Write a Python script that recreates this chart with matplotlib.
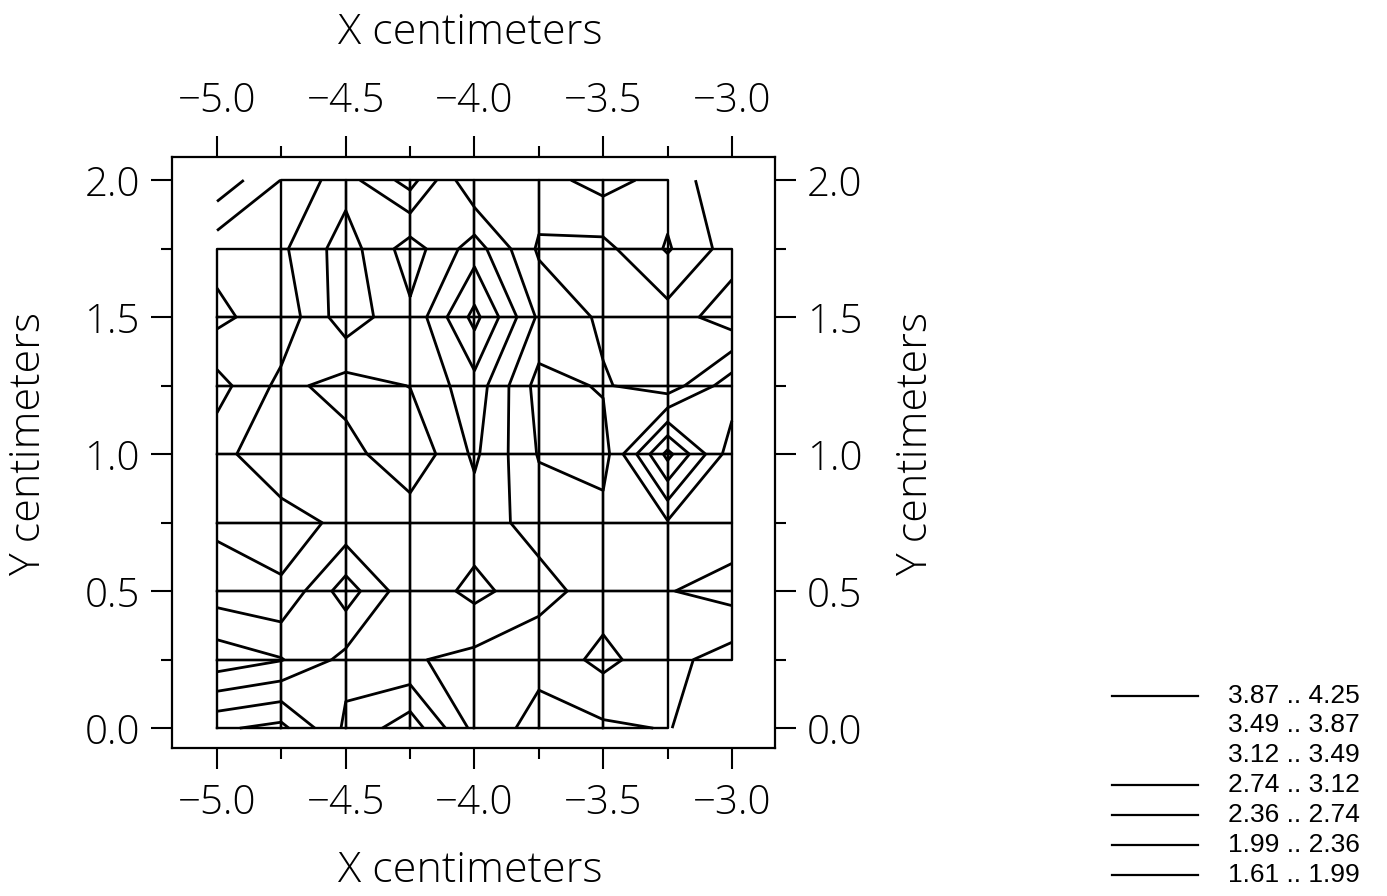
import numpy as np
import matplotlib
matplotlib.use("Agg")
from matplotlib import pyplot as plt

# grid of the measurement (cm)
x_cm = [-5.0, -4.75, -4.5, -4.25, -4.0, -3.75, -3.5, -3.25, -3.0]
y_cm = [0.0, 0.25, 0.5, 0.75, 1.0, 1.25, 1.5, 1.75, 2.0]

# values, rows from y=0.0 up to y=2.0
row_000 = [2.42, 2.25, 3.19, 3.72, 2.63, 2.21, 2.29, 2.38, 2.10]
row_025 = [3.72, 3.51, 3.01, 2.78, 2.63, 2.48, 2.85, 2.48, 2.18]
row_050 = [2.93, 2.80, 3.68, 2.85, 3.23, 2.89, 2.55, 2.72, 2.89]
row_075 = [2.67, 2.55, 2.85, 2.97, 2.93, 2.59, 2.52, 2.70, 2.52]
row_100 = [2.59, 3.08, 2.89, 2.44, 3.19, 2.33, 2.18, 3.99, 2.52]
row_125 = [2.21, 2.85, 2.59, 2.75, 3.35, 2.21, 2.40, 2.14, 2.97]
row_150 = [2.85, 2.48, 3.35, 2.82, 3.99, 2.67, 2.29, 2.21, 1.76]
row_175 = [2.59, 2.67, 3.31, 2.55, 3.31, 2.30, 2.25, 2.78, 2.18]
row_200 = [1.72, 2.37, 2.97, 3.65, 2.365, 2.59, 2.89, 2.59, 2.06]

# cells (column, row) where the plotter drew no mesh
no_mesh = [(0, 7), (7, 7), (7, 0)]

levels = [1.61, 1.99, 2.36, 2.74, 3.12, 3.49, 3.87, 4.25]
legend_labels = ['3.87 .. 4.25', '3.49 .. 3.87', '3.12 .. 3.49', '2.74 .. 3.12',
                 '2.36 .. 2.74', '1.99 .. 2.36', '1.61 .. 1.99']
legend_drawn = [True, False, False, True, True, True, True]

Z = np.array([row_000, row_025, row_050, row_075, row_100,
              row_125, row_150, row_175, row_200])
X, Y = np.meshgrid(x_cm, y_cm)

plt.rcParams['font.family'] = ['Open Sans', 'DejaVu Sans']
plt.rcParams['font.weight'] = 'light'
fig = plt.figure(figsize=(13.87, 8.96), dpi=100)
ax = fig.add_axes([0.124, 0.165, 0.4347, 0.6596])

# mesh of the grid
for j in range(len(y_cm) - 1):
    for i in range(len(x_cm) - 1):
        if (i, j) in no_mesh:
            continue
        x0, x1 = x_cm[i], x_cm[i + 1]
        y0, y1 = y_cm[j], y_cm[j + 1]
        ax.plot([x0, x1, x1, x0, x0], [y0, y0, y1, y1, y0], color='black', lw=1.7)

ax.contour(X, Y, Z, levels=levels, colors='black', linewidths=2.0)

ax.set_xlim(-5.175, -2.833)
ax.set_ylim(-0.073, 2.084)
ax.set_xticks([-5.0, -4.5, -4.0, -3.5, -3.0])
ax.set_xticklabels(['\u22125.0', '\u22124.5', '\u22124.0', '\u22123.5', '\u22123.0'])
ax.set_xticks(x_cm, minor=True)
ax.set_yticks([0.0, 0.5, 1.0, 1.5, 2.0])
ax.set_yticks(y_cm, minor=True)
ax.tick_params(which='both', direction='out', top=True, right=True,
               labeltop=True, labelright=True, width=1.5, labelsize=29)
ax.tick_params(which='major', length=15)
ax.tick_params(which='minor', length=8)
ax.tick_params(axis='x', which='major', pad=10)
ax.tick_params(axis='y', which='major', pad=8)
for s in ax.spines.values():
    s.set_linewidth(1.6)

lab_kw = dict(fontsize=31, fontweight='light', ha='center', va='center')
fig.text(0.339, 0.963, 'X centimeters', **lab_kw)
fig.text(0.339, 0.028, 'X centimeters', **lab_kw)
fig.text(0.021, 0.505, 'Y centimeters', rotation=90, **lab_kw)
fig.text(0.66, 0.505, 'Y centimeters', rotation=90, **lab_kw)

# legend of ranges
leg = fig.add_axes([0.79, 0.0, 0.21, 0.26])
leg.set_xlim(0, 1)
leg.set_ylim(0, 1)
leg.axis('off')
for k, (lab, drawn) in enumerate(zip(legend_labels, legend_drawn)):
    yy = 0.86 - k * 0.128
    if drawn:
        leg.plot([0.055, 0.35], [yy, yy], color='black', lw=1.6)
    leg.text(0.454, yy, lab, fontsize=19, family='Liberation Sans',
             fontweight='normal', va='center')

fig.savefig('out.png', dpi=100)
